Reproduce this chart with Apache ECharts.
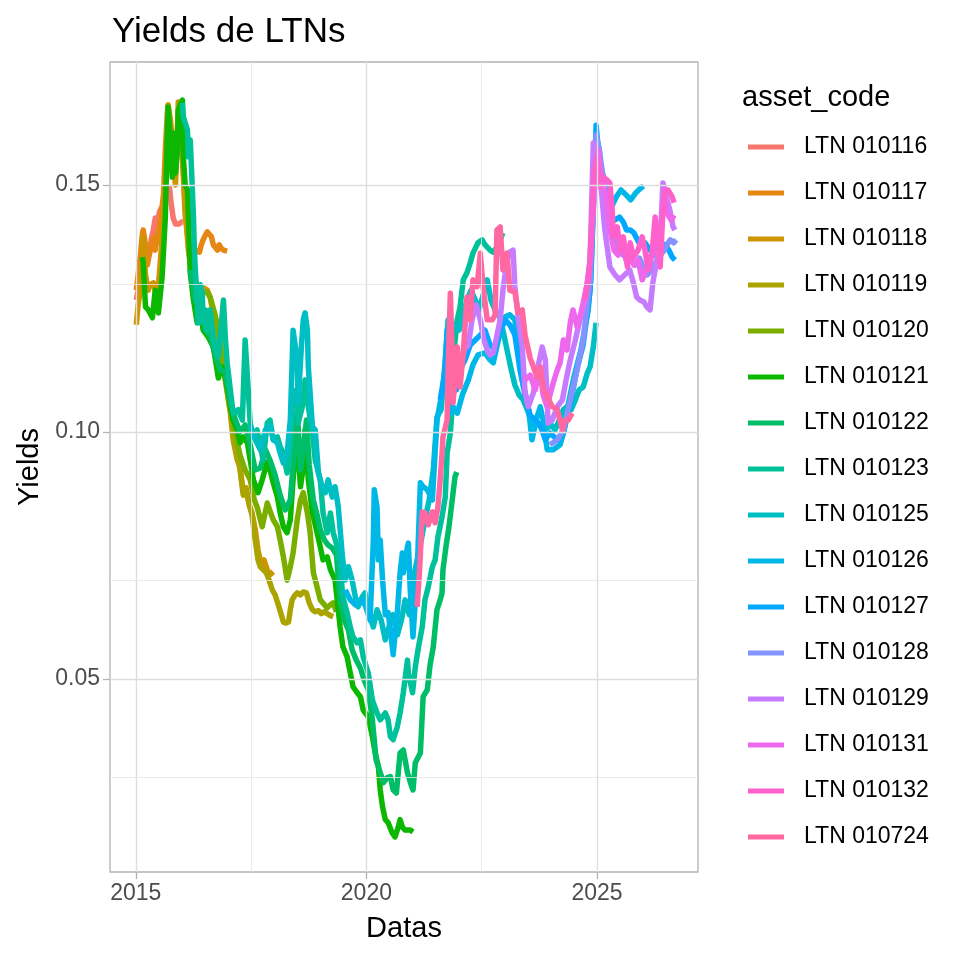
<!DOCTYPE html>
<html><head><meta charset="utf-8">
<script src="https://cdn.jsdelivr.net/npm/echarts@6/dist/echarts.min.js"></script>
<style>html,body{margin:0;padding:0;background:#fff}#c{width:960px;height:960px}</style>
</head><body><div id="c"></div><script>
const assetCodes = ["LTN 010116","LTN 010117","LTN 010118","LTN 010119","LTN 010120","LTN 010121","LTN 010122","LTN 010123","LTN 010125","LTN 010126","LTN 010127","LTN 010128","LTN 010129","LTN 010131","LTN 010132","LTN 010724"];
const colors = ["#F8766D","#E68613","#CD9600","#ABA300","#7CAE00","#0CB702","#00BE67","#00C19A","#00BFC4","#00B8E7","#00A9FF","#8494FF","#C77CFF","#ED68ED","#FF61CC","#FF68A1"];
const xTicks = [2015, 2020, 2025];
const xMinorTicks = [2017.5, 2022.5];
const yTicks = [0.05, 0.10, 0.15];
const yMinorTicks = [0.025, 0.075, 0.125];

const ltn010116 = [[2015.01,0.1267],[2015.05,0.1287],[2015.12,0.1328],[2015.18,0.1344],[2015.25,0.1368],[2015.29,0.1358],[2015.34,0.1393],[2015.38,0.1409],[2015.42,0.1433],[2015.47,0.1425],[2015.51,0.1445],[2015.55,0.1453],[2015.60,0.1445],[2015.64,0.147],[2015.68,0.148],[2015.73,0.1494],[2015.77,0.146],[2015.81,0.1433],[2015.86,0.1421],[2015.90,0.1417],[2015.94,0.1421],[2015.99,0.1425],[2016.02,0.1425]];
const ltn010117 = [[2015.01,0.1287],[2015.05,0.1318],[2015.10,0.1358],[2015.14,0.1399],[2015.16,0.1409],[2015.21,0.1379],[2015.25,0.1338],[2015.29,0.1358],[2015.34,0.1379],[2015.38,0.1393],[2015.42,0.1368],[2015.47,0.1399],[2015.51,0.1419],[2015.55,0.1439],[2015.60,0.148],[2015.64,0.1571],[2015.68,0.1642],[2015.70,0.1662],[2015.75,0.1611],[2015.79,0.1551],[2015.83,0.152],[2015.88,0.1571],[2015.92,0.1652],[2015.94,0.1662],[2015.99,0.1591],[2016.03,0.152],[2016.07,0.1439],[2016.12,0.1399],[2016.16,0.1358],[2016.20,0.1344],[2016.25,0.1358],[2016.29,0.1368],[2016.33,0.1372],[2016.38,0.1364],[2016.42,0.1379],[2016.46,0.1389],[2016.51,0.1399],[2016.55,0.1405],[2016.59,0.1403],[2016.64,0.1395],[2016.68,0.1379],[2016.72,0.1374],[2016.77,0.1368],[2016.81,0.1379],[2016.85,0.1372],[2016.90,0.1368],[2016.94,0.1364],[2016.98,0.1366]];
const ltn010118 = [[2015.01,0.1217],[2015.05,0.1257],[2015.10,0.1287],[2015.14,0.1358],[2015.16,0.1393],[2015.21,0.1318],[2015.27,0.1287],[2015.31,0.1298],[2015.38,0.1302],[2015.42,0.1287],[2015.47,0.1273],[2015.53,0.1342],[2015.60,0.1435],[2015.64,0.152],[2015.68,0.1591],[2015.70,0.1662],[2015.75,0.1632],[2015.79,0.1591],[2015.83,0.153],[2015.86,0.15],[2015.90,0.1591],[2015.92,0.1668],[2015.96,0.1621],[2016.01,0.1565],[2016.07,0.1455],[2016.14,0.1368],[2016.22,0.1314],[2016.29,0.1298],[2016.35,0.1277],[2016.42,0.1283],[2016.48,0.1291],[2016.55,0.1287],[2016.61,0.1273],[2016.68,0.1237],[2016.74,0.1227],[2016.83,0.1172],[2016.94,0.1105],[2017.05,0.1038],[2017.11,0.0984],[2017.20,0.0943],[2017.26,0.0929],[2017.33,0.0877],[2017.39,0.0887],[2017.46,0.0852],[2017.52,0.0836],[2017.59,0.0802],[2017.65,0.0761],[2017.72,0.0731],[2017.78,0.0741],[2017.85,0.0721],[2017.91,0.0711],[2017.98,0.0717]];
const ltn010119 = [[2016.74,0.1227],[2016.83,0.1176],[2016.94,0.1109],[2017.05,0.1045],[2017.13,0.0984],[2017.20,0.0953],[2017.26,0.0923],[2017.33,0.0872],[2017.39,0.0883],[2017.46,0.0852],[2017.52,0.0832],[2017.59,0.0781],[2017.65,0.0741],[2017.70,0.0727],[2017.76,0.0721],[2017.83,0.0715],[2017.89,0.0700],[2017.96,0.068],[2018.02,0.067],[2018.09,0.065],[2018.13,0.0646],[2018.20,0.0615],[2018.26,0.0613],[2018.31,0.0615],[2018.35,0.064],[2018.39,0.066],[2018.44,0.0668],[2018.50,0.0674],[2018.57,0.067],[2018.63,0.0676],[2018.70,0.0674],[2018.76,0.0654],[2018.83,0.064],[2018.89,0.0636],[2018.96,0.0638],[2019.02,0.0632],[2019.09,0.0636],[2019.15,0.0632],[2019.22,0.0628],[2019.28,0.0626]];
const ltn010120 = [[2016.51,0.1287],[2016.61,0.1273],[2016.72,0.1237],[2016.83,0.1176],[2016.94,0.1115],[2017.05,0.1055],[2017.16,0.0994],[2017.26,0.0953],[2017.37,0.0923],[2017.48,0.0903],[2017.57,0.0862],[2017.63,0.0848],[2017.74,0.0808],[2017.85,0.0856],[2017.98,0.0822],[2018.07,0.0808],[2018.13,0.0781],[2018.20,0.0747],[2018.28,0.070],[2018.35,0.0727],[2018.41,0.0755],[2018.50,0.0822],[2018.57,0.0862],[2018.63,0.0877],[2018.72,0.0836],[2018.78,0.0796],[2018.85,0.0715],[2018.93,0.0686],[2019.00,0.066],[2019.09,0.065],[2019.15,0.0644],[2019.22,0.065],[2019.28,0.0654],[2019.35,0.0636]];
const ltn010121 = [[2015.14,0.1354],[2015.16,0.1342],[2015.21,0.1253],[2015.27,0.1247],[2015.36,0.1231],[2015.42,0.1287],[2015.49,0.1241],[2015.53,0.1241],[2015.57,0.1314],[2015.64,0.1435],[2015.68,0.1591],[2015.70,0.1658],[2015.75,0.1591],[2015.79,0.1516],[2015.81,0.1605],[2015.86,0.1524],[2015.90,0.1571],[2015.92,0.1652],[2015.96,0.1662],[2016.01,0.1672],[2016.03,0.1557],[2016.07,0.15],[2016.12,0.149],[2016.18,0.1322],[2016.25,0.1267],[2016.33,0.1221],[2016.40,0.1241],[2016.46,0.1206],[2016.57,0.1192],[2016.68,0.1172],[2016.79,0.1109],[2016.87,0.1132],[2016.94,0.1111],[2017.05,0.1051],[2017.11,0.1024],[2017.20,0.1004],[2017.26,0.0978],[2017.33,0.099],[2017.42,0.0978],[2017.48,0.0943],[2017.55,0.0903],[2017.65,0.0877],[2017.74,0.0903],[2017.85,0.0939],[2017.91,0.0923],[2017.98,0.0897],[2018.07,0.0868],[2018.13,0.0836],[2018.20,0.0808],[2018.28,0.0796],[2018.35,0.0822],[2018.41,0.0903],[2018.50,0.101],[2018.52,0.0957],[2018.57,0.0889],[2018.63,0.0929],[2018.67,0.1004],[2018.74,0.0903],[2018.83,0.0836],[2018.93,0.0796],[2019.00,0.0767],[2019.06,0.0741],[2019.15,0.0747],[2019.22,0.0721],[2019.32,0.070],[2019.43,0.0605],[2019.49,0.0565],[2019.58,0.0545],[2019.65,0.0512],[2019.71,0.0484],[2019.80,0.0472],[2019.87,0.0464],[2019.93,0.0437],[2020.04,0.0423],[2020.13,0.0383],[2020.19,0.035],[2020.26,0.0322],[2020.30,0.0275],[2020.35,0.0241],[2020.41,0.0215],[2020.47,0.0209],[2020.56,0.0188],[2020.62,0.018],[2020.69,0.02],[2020.73,0.0215],[2020.78,0.02],[2020.84,0.0194],[2020.95,0.0194],[2021.01,0.019]];
const ltn010122 = [[2016.18,0.1328],[2016.29,0.1267],[2016.40,0.1247],[2016.51,0.1206],[2016.61,0.1196],[2016.72,0.1156],[2016.83,0.1126],[2016.94,0.1121],[2017.05,0.1065],[2017.16,0.1024],[2017.26,0.10],[2017.37,0.1014],[2017.48,0.0974],[2017.59,0.0923],[2017.70,0.0927],[2017.81,0.0964],[2017.91,0.0943],[2018.02,0.0913],[2018.13,0.0872],[2018.24,0.0842],[2018.35,0.0862],[2018.41,0.0933],[2018.50,0.1045],[2018.57,0.0923],[2018.63,0.0964],[2018.70,0.1024],[2018.76,0.0933],[2018.85,0.0862],[2018.93,0.0832],[2019.00,0.0802],[2019.09,0.0781],[2019.17,0.0771],[2019.26,0.0765],[2019.35,0.0751],[2019.43,0.066],[2019.52,0.0619],[2019.61,0.0599],[2019.69,0.0559],[2019.78,0.0538],[2019.87,0.0522],[2019.95,0.0498],[2020.04,0.0478],[2020.13,0.0417],[2020.21,0.0336],[2020.28,0.0316],[2020.37,0.029],[2020.45,0.03],[2020.52,0.0302],[2020.58,0.0275],[2020.65,0.0269],[2020.73,0.035],[2020.80,0.0356],[2020.89,0.031],[2020.97,0.0285],[2021.01,0.0275],[2021.06,0.033],[2021.17,0.035],[2021.23,0.0464],[2021.32,0.0478],[2021.38,0.0528],[2021.45,0.0565],[2021.53,0.064],[2021.60,0.066],[2021.64,0.0674],[2021.66,0.0721],[2021.73,0.0771],[2021.79,0.0808],[2021.86,0.0862],[2021.92,0.0909],[2021.96,0.0919]];
const ltn010123 = [[2016.01,0.1666],[2016.03,0.1638],[2016.12,0.1611],[2016.14,0.1557],[2016.18,0.1591],[2016.22,0.1504],[2016.25,0.1435],[2016.27,0.1368],[2016.29,0.1328],[2016.33,0.1273],[2016.35,0.1221],[2016.40,0.1298],[2016.44,0.1283],[2016.46,0.1221],[2016.51,0.1247],[2016.55,0.1206],[2016.61,0.1247],[2016.68,0.1192],[2016.72,0.1172],[2016.79,0.1152],[2016.90,0.1267],[2016.94,0.1192],[2016.98,0.114],[2017.05,0.1085],[2017.11,0.1038],[2017.22,0.1045],[2017.31,0.1024],[2017.37,0.1186],[2017.42,0.1111],[2017.48,0.1018],[2017.55,0.099],[2017.63,0.1004],[2017.70,0.097],[2017.76,0.0943],[2017.85,0.1018],[2017.91,0.1024],[2017.98,0.0984],[2018.07,0.099],[2018.13,0.097],[2018.20,0.0957],[2018.28,0.0917],[2018.35,0.0978],[2018.41,0.1085],[2018.50,0.1079],[2018.52,0.1018],[2018.61,0.1051],[2018.67,0.1105],[2018.74,0.1051],[2018.83,0.0998],[2018.89,0.0943],[2019.00,0.0903],[2019.06,0.0836],[2019.15,0.0796],[2019.22,0.0836],[2019.28,0.0796],[2019.37,0.0767],[2019.43,0.0727],[2019.49,0.0666],[2019.58,0.0634],[2019.65,0.0605],[2019.71,0.0585],[2019.80,0.0573],[2019.87,0.0579],[2019.93,0.0545],[2020.04,0.0512],[2020.13,0.0457],[2020.23,0.0431],[2020.30,0.0417],[2020.41,0.0431],[2020.47,0.0417],[2020.52,0.0383],[2020.58,0.0377],[2020.67,0.0403],[2020.73,0.0431],[2020.80,0.0472],[2020.89,0.0538],[2020.91,0.0512],[2021.00,0.0472],[2021.06,0.0524],[2021.13,0.0565],[2021.21,0.0605],[2021.27,0.066],[2021.34,0.0686],[2021.43,0.0727],[2021.49,0.0741],[2021.55,0.0787],[2021.64,0.0828],[2021.71,0.0868],[2021.75,0.0957],[2021.82,0.0998],[2021.86,0.1051],[2021.88,0.1146],[2021.97,0.1227],[2022.03,0.1253],[2022.10,0.1308],[2022.18,0.1322],[2022.25,0.1342],[2022.31,0.1362],[2022.42,0.1383],[2022.51,0.1389],[2022.57,0.1379],[2022.68,0.1368],[2022.75,0.1364],[2022.83,0.1374],[2022.96,0.1403]];
const ltn010125 = [[2017.48,0.1014],[2017.59,0.0984],[2017.70,0.0964],[2017.81,0.1004],[2017.91,0.1014],[2017.98,0.0984],[2018.07,0.0978],[2018.13,0.0957],[2018.20,0.0937],[2018.28,0.0957],[2018.35,0.1024],[2018.41,0.1206],[2018.46,0.1172],[2018.50,0.114],[2018.52,0.1059],[2018.59,0.1172],[2018.63,0.1227],[2018.67,0.1241],[2018.72,0.1206],[2018.74,0.1132],[2018.83,0.101],[2018.89,0.1004],[2018.96,0.0917],[2019.04,0.0889],[2019.11,0.0877],[2019.17,0.0903],[2019.26,0.0868],[2019.32,0.0889],[2019.39,0.0848],[2019.48,0.0747],[2019.54,0.070],[2019.61,0.0727],[2019.69,0.070],[2019.76,0.0666],[2019.82,0.0646],[2019.91,0.0666],[2019.97,0.0674],[2020.04,0.0634],[2020.15,0.0605],[2020.23,0.064],[2020.32,0.0619],[2020.41,0.0579],[2020.50,0.0609],[2020.58,0.063],[2020.67,0.0589],[2020.76,0.0619],[2020.84,0.066],[2020.93,0.063],[2021.01,0.070],[2021.10,0.0741],[2021.19,0.0781],[2021.27,0.0822],[2021.36,0.0862],[2021.45,0.0923],[2021.53,0.103],[2021.62,0.1045],[2021.71,0.1146],[2021.77,0.1227],[2021.84,0.1206],[2021.92,0.1217],[2022.01,0.1206],[2022.10,0.1237],[2022.18,0.1267],[2022.27,0.1287],[2022.36,0.1267],[2022.44,0.1247],[2022.53,0.1277],[2022.62,0.1308],[2022.70,0.1267],[2022.79,0.1247],[2022.88,0.1237],[2022.96,0.1206],[2023.05,0.1166],[2023.14,0.1126],[2023.22,0.1095],[2023.31,0.1075],[2023.40,0.1065],[2023.49,0.1045],[2023.57,0.1024],[2023.66,0.1028],[2023.74,0.1014],[2023.83,0.1004],[2023.92,0.1008],[2024.01,0.1014],[2024.09,0.1004],[2024.18,0.1024],[2024.27,0.1045],[2024.35,0.1051],[2024.44,0.1045],[2024.53,0.1065],[2024.61,0.1085],[2024.70,0.1091],[2024.79,0.1119],[2024.85,0.1132],[2024.92,0.1172],[2024.98,0.1221]];
const ltn010126 = [[2019.54,0.068],[2019.65,0.066],[2019.76,0.065],[2019.87,0.066],[2019.97,0.065],[2020.08,0.0619],[2020.15,0.0781],[2020.17,0.0883],[2020.23,0.0848],[2020.26,0.0741],[2020.30,0.0781],[2020.35,0.070],[2020.41,0.063],[2020.47,0.0634],[2020.52,0.0599],[2020.58,0.0549],[2020.62,0.0589],[2020.67,0.0634],[2020.73,0.0715],[2020.78,0.0755],[2020.80,0.0715],[2020.89,0.0767],[2020.91,0.0775],[2020.95,0.068],[2021.01,0.0585],[2021.10,0.0715],[2021.17,0.0897],[2021.23,0.0889],[2021.32,0.0883],[2021.43,0.0862],[2021.53,0.1024],[2021.60,0.1059],[2021.69,0.1105],[2021.75,0.1206],[2021.82,0.1038],[2021.88,0.1051],[2021.97,0.1038],[2022.08,0.1075],[2022.21,0.1105],[2022.31,0.1136],[2022.42,0.1156],[2022.57,0.116],[2022.68,0.1146],[2022.75,0.114],[2022.86,0.1186],[2023.01,0.1233],[2023.11,0.1237],[2023.22,0.1227],[2023.29,0.1166],[2023.38,0.1105],[2023.51,0.1051],[2023.59,0.0984],[2023.68,0.1024],[2023.77,0.1051],[2023.83,0.1024],[2023.92,0.0964],[2024.05,0.0964],[2024.20,0.0974],[2024.29,0.1004],[2024.35,0.1045],[2024.50,0.1111],[2024.65,0.1166],[2024.81,0.1247],[2024.87,0.1314],[2024.94,0.1516],[2024.98,0.1601],[2025.05,0.1571],[2025.11,0.15],[2025.20,0.146],[2025.31,0.1455],[2025.42,0.1476],[2025.52,0.149],[2025.63,0.148],[2025.73,0.147],[2025.84,0.1484],[2025.95,0.1494],[2026.01,0.1498]];
const ltn010127 = [[2021.60,0.1065],[2021.71,0.1126],[2021.77,0.1206],[2021.86,0.1146],[2021.95,0.1085],[2022.03,0.1126],[2022.14,0.1146],[2022.25,0.1176],[2022.36,0.1186],[2022.47,0.1196],[2022.57,0.1206],[2022.68,0.1176],[2022.79,0.1166],[2022.90,0.1206],[2023.01,0.1227],[2023.11,0.1217],[2023.22,0.1196],[2023.33,0.1126],[2023.44,0.1075],[2023.55,0.1034],[2023.66,0.1024],[2023.77,0.1014],[2023.88,0.0984],[2023.98,0.0998],[2024.14,0.0984],[2024.27,0.0998],[2024.42,0.1055],[2024.57,0.113],[2024.70,0.1176],[2024.85,0.1287],[2024.92,0.1449],[2024.98,0.1621],[2025.05,0.1551],[2025.14,0.1516],[2025.23,0.147],[2025.29,0.1439],[2025.38,0.1429],[2025.49,0.1435],[2025.57,0.1425],[2025.64,0.1409],[2025.72,0.1409],[2025.80,0.1403],[2025.91,0.1383],[2026.04,0.1383],[2026.15,0.1368],[2026.26,0.1358],[2026.37,0.1368],[2026.48,0.1379],[2026.56,0.1368],[2026.63,0.1354],[2026.69,0.1348]];
const ltn010128 = [[2023.98,0.0974],[2024.14,0.0984],[2024.27,0.1004],[2024.42,0.1065],[2024.57,0.1126],[2024.70,0.1186],[2024.85,0.1308],[2024.92,0.149],[2024.98,0.1601],[2025.05,0.1571],[2025.14,0.151],[2025.23,0.1449],[2025.31,0.1409],[2025.40,0.1379],[2025.49,0.1368],[2025.57,0.1358],[2025.66,0.1368],[2025.75,0.1348],[2025.83,0.1338],[2025.92,0.1352],[2026.01,0.1332],[2026.09,0.1318],[2026.18,0.1328],[2026.27,0.1344],[2026.37,0.1358],[2026.46,0.1368],[2026.52,0.1379],[2026.59,0.1389],[2026.66,0.1383],[2026.72,0.1389]];
const ltn010129 = [[2021.86,0.1146],[2021.95,0.1105],[2022.03,0.1126],[2022.12,0.1166],[2022.21,0.1176],[2022.29,0.1227],[2022.38,0.1257],[2022.47,0.1227],[2022.55,0.1186],[2022.62,0.1166],[2022.68,0.1156],[2022.75,0.116],[2022.81,0.1186],[2022.90,0.1227],[2022.96,0.1287],[2023.05,0.1348],[2023.11,0.1364],[2023.18,0.1368],[2023.22,0.1294],[2023.29,0.1233],[2023.38,0.1172],[2023.44,0.1079],[2023.51,0.1051],[2023.62,0.1079],[2023.72,0.1132],[2023.81,0.1172],[2023.88,0.1146],[2023.94,0.1018],[2024.03,0.1024],[2024.14,0.1051],[2024.25,0.1065],[2024.33,0.1105],[2024.42,0.1146],[2024.53,0.1186],[2024.63,0.1227],[2024.74,0.1267],[2024.85,0.1348],[2024.92,0.1585],[2024.98,0.1571],[2025.07,0.1516],[2025.17,0.1409],[2025.28,0.1334],[2025.39,0.1318],[2025.49,0.1308],[2025.60,0.1318],[2025.71,0.1328],[2025.80,0.1298],[2025.86,0.1273],[2025.93,0.1267],[2026.02,0.1263],[2026.08,0.1253],[2026.15,0.1247],[2026.21,0.1302],[2026.28,0.1338],[2026.37,0.1383],[2026.43,0.1504],[2026.52,0.147],[2026.58,0.1449],[2026.65,0.1415],[2026.69,0.1409]];
const ltn010131 = [[2023.44,0.1105],[2023.55,0.1115],[2023.66,0.1085],[2023.77,0.1126],[2023.83,0.1075],[2023.92,0.1051],[2023.98,0.1075],[2024.05,0.1099],[2024.14,0.1126],[2024.20,0.114],[2024.27,0.1186],[2024.35,0.1166],[2024.42,0.1221],[2024.48,0.1247],[2024.57,0.1213],[2024.63,0.1233],[2024.70,0.1261],[2024.79,0.1302],[2024.85,0.1342],[2024.92,0.1449],[2024.98,0.1551],[2025.03,0.1571],[2025.07,0.153],[2025.14,0.15],[2025.20,0.147],[2025.28,0.1409],[2025.37,0.1368],[2025.46,0.1358],[2025.54,0.1379],[2025.63,0.1348],[2025.72,0.1358],[2025.80,0.1338],[2025.89,0.1348],[2025.98,0.1308],[2026.07,0.1328],[2026.15,0.1348],[2026.24,0.1368],[2026.33,0.1379],[2026.41,0.1439],[2026.48,0.147],[2026.54,0.1439],[2026.61,0.1429],[2026.67,0.1439]];
const ltn010132 = [[2024.74,0.1267],[2024.83,0.1318],[2024.89,0.1429],[2024.94,0.153],[2024.98,0.1551],[2025.03,0.154],[2025.07,0.1496],[2025.14,0.1516],[2025.22,0.151],[2025.28,0.1504],[2025.33,0.1449],[2025.35,0.1395],[2025.44,0.1415],[2025.50,0.1368],[2025.57,0.1395],[2025.66,0.1334],[2025.72,0.1383],[2025.79,0.1354],[2025.89,0.1368],[2025.98,0.1395],[2026.04,0.1368],[2026.11,0.1328],[2026.20,0.1368],[2026.26,0.1435],[2026.33,0.1383],[2026.37,0.1334],[2026.43,0.1449],[2026.48,0.149],[2026.54,0.149],[2026.63,0.1476],[2026.67,0.1464]];
const ltn010724 = [[2021.10,0.0646],[2021.14,0.070],[2021.17,0.0751],[2021.21,0.0838],[2021.27,0.0836],[2021.34,0.0812],[2021.43,0.0838],[2021.49,0.0816],[2021.55,0.0848],[2021.60,0.0903],[2021.64,0.0957],[2021.66,0.099],[2021.75,0.1024],[2021.77,0.1126],[2021.82,0.1281],[2021.86,0.116],[2021.88,0.1059],[2021.97,0.1172],[2022.03,0.1091],[2022.10,0.116],[2022.18,0.1273],[2022.25,0.1227],[2022.31,0.1308],[2022.40,0.1294],[2022.47,0.1362],[2022.53,0.1294],[2022.62,0.1227],[2022.73,0.1227],[2022.79,0.1237],[2022.83,0.1409],[2022.90,0.1415],[2022.96,0.1328],[2023.05,0.1362],[2023.11,0.1287],[2023.22,0.1283],[2023.29,0.1241],[2023.38,0.1247],[2023.44,0.1196],[2023.55,0.115],[2023.62,0.1132],[2023.70,0.1111],[2023.77,0.1132],[2023.83,0.1091],[2023.92,0.1071],[2024.03,0.1051],[2024.14,0.1045],[2024.25,0.1004],[2024.31,0.1024],[2024.38,0.1024],[2024.46,0.1038]];

const seriesData = [ltn010116, ltn010117, ltn010118, ltn010119, ltn010120, ltn010121, ltn010122, ltn010123, ltn010125, ltn010126, ltn010127, ltn010128, ltn010129, ltn010131, ltn010132, ltn010724];

const FONT = "Liberation Sans, Arial, Helvetica, sans-serif";
const chart = echarts.init(document.getElementById('c'), null, {renderer: 'canvas'});

const gridSeries = [
  {
    name: '_major', type: 'line', data: [], silent: true, z: 1,
    markLine: {
      silent: true, symbol: ['none', 'none'], label: {show: false}, animation: false,
      lineStyle: {color: '#dedede', width: 1.4, type: 'solid'}, emphasis: {disabled: true},
      data: xTicks.map(v => ({xAxis: v})).concat(yTicks.map(v => ({yAxis: v})))
    }
  },
  {
    name: '_minor', type: 'line', data: [], silent: true, z: 1,
    markLine: {
      silent: true, symbol: ['none', 'none'], label: {show: false}, animation: false,
      lineStyle: {color: '#e6e6e6', width: 0.8, type: 'solid'}, emphasis: {disabled: true},
      data: xMinorTicks.map(v => ({xAxis: v})).concat(yMinorTicks.map(v => ({yAxis: v})))
    }
  }
];

const lineSeries = assetCodes.map((name, i) => ({
  name: name, type: 'line', data: seriesData[i], showSymbol: false, symbol: 'none',
  z: 2, animation: false, silent: true,
  lineStyle: {color: colors[i], width: 5.5, cap: 'butt', join: 'round'},
  itemStyle: {color: colors[i]}
}));

chart.setOption({
  backgroundColor: '#ffffff',
  animation: false,
  title: [
    {text: 'Yields de LTNs', left: 107, top: 10, textStyle: {fontFamily: FONT, fontSize: 35, fontWeight: 'normal', color: '#000'}},
    {text: 'asset_code', left: 737, top: 78, textStyle: {fontFamily: FONT, fontSize: 29, fontWeight: 'normal', color: '#000'}}
  ],
  grid: {left: 110, right: 262, top: 62, bottom: 88, show: true, borderColor: '#b3b3b3', borderWidth: 1.3, backgroundColor: 'transparent'},
  legend: {
    data: assetCodes, orient: 'vertical', left: 743, top: 129, icon: 'rect',
    itemWidth: 36, itemHeight: 5, itemGap: 20, selectedMode: false,
    textStyle: {fontFamily: FONT, fontSize: 23, color: '#000', lineHeight: 26, padding: [0, 0, 0, 15]}
  },
  xAxis: {
    type: 'value', min: 2014.44, max: 2027.19, splitNumber: 3,
    splitLine: {show: false}, axisLine: {show: false},
    axisTick: {show: true, length: 7, lineStyle: {color: '#b3b3b3', width: 1.3}, customValues: xTicks},
    axisLabel: {customValues: xTicks, color: '#4d4d4d', fontSize: 23, fontFamily: FONT, margin: 10,
      formatter: v => String(Math.round(v))},
    name: 'Datas', nameLocation: 'middle', nameGap: 42,
    nameTextStyle: {fontFamily: FONT, fontSize: 29, color: '#000'}
  },
  yAxis: {
    type: 'value', min: 0.0109, max: 0.1749, splitNumber: 3,
    splitLine: {show: false}, axisLine: {show: false},
    axisTick: {show: true, length: 7, lineStyle: {color: '#b3b3b3', width: 1.3}, customValues: yTicks},
    axisLabel: {customValues: yTicks, color: '#4d4d4d', fontSize: 23, fontFamily: FONT, margin: 10,
      formatter: v => v.toFixed(2)},
    name: 'Yields', nameLocation: 'middle', nameGap: 64, nameRotate: 90,
    nameTextStyle: {fontFamily: FONT, fontSize: 29, color: '#000'}
  },
  series: gridSeries.concat(lineSeries)
});
</script></body></html>
